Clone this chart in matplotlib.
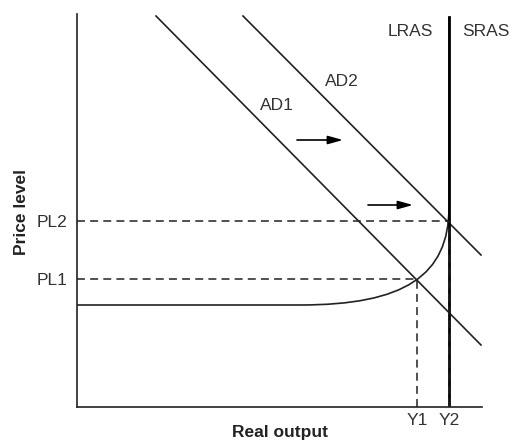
import matplotlib
matplotlib.use("Agg")
import matplotlib.pyplot as plt
from matplotlib.path import Path
from matplotlib.patches import PathPatch

plt.rcParams['font.family'] = ['Liberation Sans', 'DejaVu Sans']

# Data (diagram units)
ad1_x = [79, 404]
ad1_y = [391, 62]
ad2_x = [166, 404]
ad2_y = [391, 152]
lras_x = 372
lras_top = 390
sras_knots = [(0, 102), (223, 102), (327, 102), (372, 131), (372, 200), (372, 390)]
price_levels = [128, 186]
price_labels = ["PL1", "PL2"]
outputs = [340, 372]
output_labels = ["Y1", "Y2"]
arrows = [((220, 267), (266, 267)), ((291, 202), (336, 202))]
curve_labels = [("AD1", 200, 301), ("AD2", 265, 325), ("LRAS", 333, 376), ("SRAS", 409, 376)]

W, H = 513, 445
fig = plt.figure(figsize=(W / 100, H / 100), dpi=100)
ax = fig.add_axes([77 / W, 38 / H, 405 / W, 393 / H])
ax.set_xlim(0, 405)
ax.set_ylim(0, 393)
for s in ["top", "right"]:
    ax.spines[s].set_visible(False)
for s in ["left", "bottom"]:
    ax.spines[s].set_linewidth(1.2)
    ax.spines[s].set_color("#222222")

lc = "#222222"
fs = 12.5
ax.plot(ad1_x, ad1_y, color=lc, lw=1.2)
ax.plot(ad2_x, ad2_y, color=lc, lw=1.2)
ax.plot([lras_x, lras_x], [0, lras_top], color="black", lw=2.0)

codes = [Path.MOVETO, Path.LINETO, Path.CURVE4, Path.CURVE4, Path.CURVE4, Path.LINETO]
sras_path = Path(sras_knots, codes)
ax.add_patch(PathPatch(sras_path, fill=False, edgecolor=lc, lw=1.2))

for pl, xo in zip(price_levels, outputs):
    ax.plot([0, xo], [pl, pl], color=lc, lw=1.1, ls=(0, (5.2, 3.4)))
    ax.plot([xo, xo], [0, pl], color=lc, lw=1.1, ls=(0, (5.2, 3.4)))

for (x0, y0), (x1, y1) in arrows:
    ax.annotate("", xy=(x1, y1), xytext=(x0, y0),
                arrowprops=dict(arrowstyle="-|>,head_length=0.9,head_width=0.25",
                                color="black", lw=1.2, shrinkA=0, shrinkB=0))

for txt, x, y in curve_labels:
    ax.text(x, y, txt, ha="center", va="center", fontsize=fs, color="#333333", clip_on=False)

ax.set_yticks(price_levels)
ax.set_yticklabels(price_labels, fontsize=fs, color="#333333")
ax.set_xticks(outputs)
ax.set_xticklabels(output_labels, fontsize=fs, color="#333333")
ax.tick_params(axis="y", length=0, pad=7)
ax.tick_params(axis="x", length=0, pad=4)

fig.text(280 / W, 1 - 433 / H, "Real output", fontsize=fs, fontweight="bold",
         ha="center", va="center", color="#222222")
fig.text(22 / W, 1 - 212 / H, "Price level", fontsize=fs, fontweight="bold",
         ha="center", va="center", rotation=90, color="#222222")

fig.savefig("out.png", dpi=100)
